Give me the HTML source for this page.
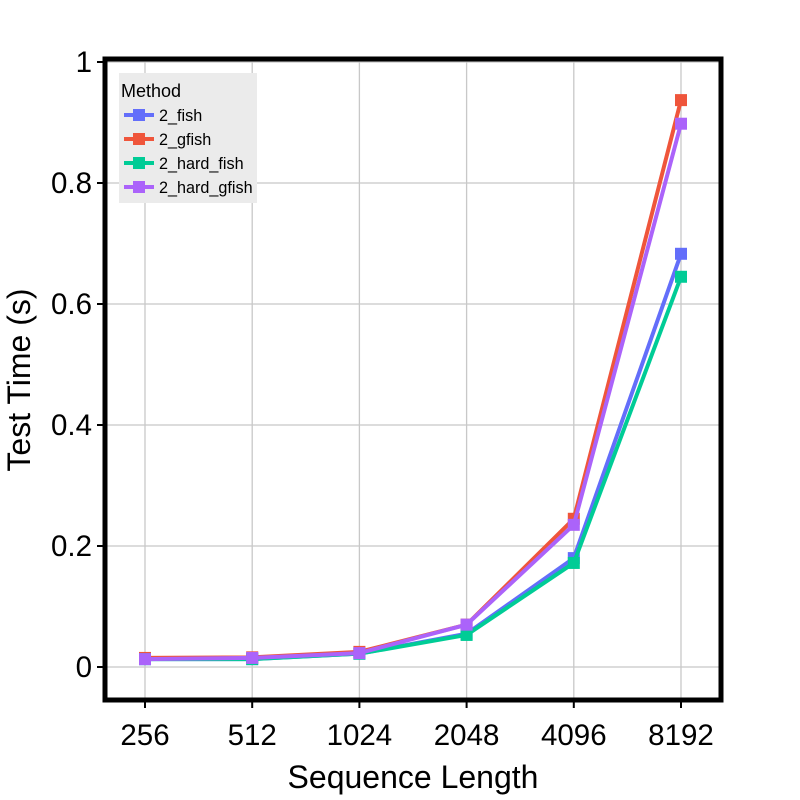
<!DOCTYPE html>
<html><head><meta charset="utf-8"><style>body{margin:0;background:#fff}svg{display:block;font-family:"Liberation Sans",sans-serif}</style></head>
<body>
<svg id="chart" width="800" height="800">
<rect width="800" height="800" fill="#fff"/>
<g id="grid"></g><g id="series"></g><g id="axes"></g>
<rect x="105" y="59" width="616" height="641" fill="none" stroke="#000" stroke-width="5"/>
<g>
<rect x="119" y="73" width="138" height="130" fill="#ebebeb"/>
<text x="121" y="97" font-size="18">Method</text>
<g id="legend-items"></g>
</g>
<text x="413" y="788" font-size="32" text-anchor="middle">Sequence Length</text>
<text transform="translate(30,380) rotate(-90)" font-size="32" text-anchor="middle">Test Time (s)</text>
</svg>
<script>
const categories=["256","512","1024","2048","4096","8192"];
const yTicks=[0,0.2,0.4,0.6,0.8,1];
const yTickLabels=["0","0.2","0.4","0.6","0.8","1"];
const seriesNames=["2_fish","2_gfish","2_hard_fish","2_hard_gfish"];
const colors=["#636efa","#ef553b","#00cc96","#ab63fa"];
const fish=[0.013,0.013,0.022,0.055,0.18,0.683];
const gfish=[0.015,0.016,0.025,0.07,0.245,0.937];
const hardFish=[0.013,0.013,0.022,0.053,0.172,0.645];
const hardGfish=[0.013,0.015,0.023,0.07,0.235,0.898];
const seriesValues=[fish,gfish,hardFish,hardGfish];
const NS="http://www.w3.org/2000/svg";
const xS=i=>145+i*107.2;
const yS=v=>667-v*605;
function mk(t,a,p){const e=document.createElementNS(NS,t);for(const k in a)e.setAttribute(k,a[k]);p.appendChild(e);return e;}
const grid=document.getElementById('grid'),axes=document.getElementById('axes'),ser=document.getElementById('series');
categories.forEach((c,i)=>{
 const l=mk('line',{x1:xS(i),x2:xS(i),y1:59,y2:700,stroke:'#c8c8c8','stroke-width':1.3},grid);
 
 
 mk('line',{x1:xS(i),x2:xS(i),y1:700,y2:708,stroke:'#000','stroke-width':2},axes);
 const t=mk('text',{x:xS(i),y:745,'font-size':29.5,'text-anchor':'middle'},axes);t.textContent=c;
 
 
});
yTicks.forEach((v,i)=>{
 const l=mk('line',{x1:105,x2:721,y1:yS(v),y2:yS(v),stroke:'#c8c8c8','stroke-width':1.3},grid);
 
 
 mk('line',{x1:97,x2:105,y1:yS(v),y2:yS(v),stroke:'#000','stroke-width':2},axes);
 const t=mk('text',{x:92,y:yS(v)+10,'font-size':29.5,'text-anchor':'end'},axes);t.textContent=yTickLabels[i];
 
 
});
seriesValues.forEach((vals,s)=>{
 const g=mk('g',{},ser);
 
 
 mk('polyline',{points:vals.map((v,i)=>xS(i)+','+yS(v)).join(' '),fill:'none',stroke:colors[s],'stroke-width':4,'stroke-linejoin':'round'},g);
 vals.forEach((v,i)=>{
  const r=mk('rect',{x:xS(i)-6,y:yS(v)-6,width:12,height:12,fill:colors[s]},g);
  
  
 });
});
const li=document.getElementById('legend-items');
seriesNames.forEach((n,s)=>{
 const y=115+s*24;
 const g=mk('g',{},li);
 
 
 mk('line',{x1:124,x2:154,y1:y,y2:y,stroke:colors[s],'stroke-width':4},g);
 mk('rect',{x:133,y:y-6,width:12,height:12,fill:colors[s]},g);
 const t=mk('text',{x:159,y:y+6,'font-size':16.2},g);t.textContent=n;
});
</script>
</body></html>
